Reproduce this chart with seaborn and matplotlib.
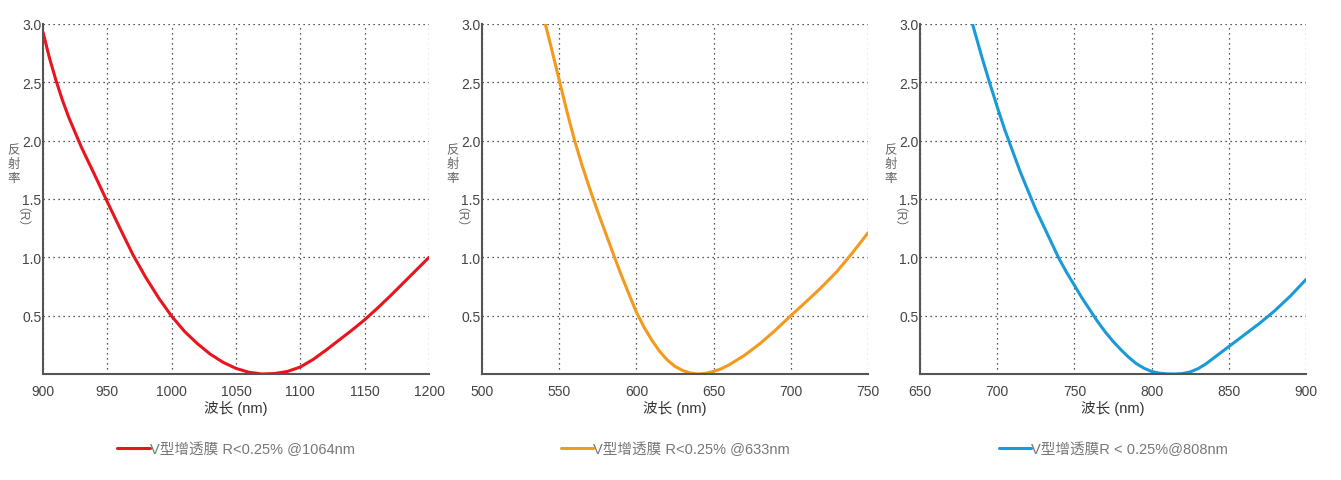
import matplotlib
matplotlib.use("Agg")
import matplotlib.pyplot as plt
import seaborn as sns
import pandas as pd

sns.set_style("white")
plt.rcParams['font.family'] = ['Liberation Sans', 'Noto Sans CJK SC', 'DejaVu Sans']

# readings
wl_1064 = [900, 905, 910, 915, 920, 925, 930, 940, 950, 960, 970, 980, 990, 1000, 1010,
           1020, 1030, 1040, 1050, 1060, 1070, 1080, 1090, 1100, 1110, 1120, 1130, 1140,
           1150, 1160, 1170, 1180, 1190, 1200]
r_1064 = [2.93, 2.71, 2.52, 2.35, 2.2, 2.07, 1.94, 1.71, 1.475, 1.245, 1.02, 0.825, 0.65,
          0.495, 0.365, 0.26, 0.17, 0.10, 0.048, 0.015, 0.0, 0.004, 0.022, 0.06, 0.125,
          0.205, 0.29, 0.375, 0.465, 0.565, 0.67, 0.78, 0.89, 1.0]

wl_633 = [541, 545, 550, 555, 560, 565, 570, 575, 580, 585, 590, 595, 600, 605, 610, 615,
          620, 625, 630, 635, 640, 645, 650, 655, 660, 670, 680, 690, 700, 710, 720, 730,
          740, 750]
r_633 = [3.0, 2.79, 2.52, 2.25, 2.0, 1.78, 1.58, 1.39, 1.21, 1.03, 0.855, 0.69, 0.53, 0.4,
         0.29, 0.195, 0.12, 0.065, 0.03, 0.008, 0.0, 0.006, 0.022, 0.045, 0.078, 0.16,
         0.26, 0.375, 0.5, 0.62, 0.745, 0.88, 1.04, 1.21]

wl_808 = [684, 690, 695, 700, 705, 710, 715, 720, 725, 730, 735, 740, 745, 750, 755, 760,
          765, 770, 775, 780, 785, 790, 795, 800, 805, 810, 815, 820, 825, 830, 835, 840,
          850, 860, 870, 880, 890, 900]
r_808 = [3.0, 2.72, 2.5, 2.29, 2.09, 1.91, 1.73, 1.57, 1.41, 1.27, 1.13, 0.99, 0.87, 0.76,
         0.65, 0.55, 0.45, 0.36, 0.28, 0.21, 0.145, 0.09, 0.05, 0.022, 0.007, 0.001, 0.0,
         0.004, 0.018, 0.045, 0.085, 0.135, 0.235, 0.335, 0.435, 0.545, 0.67, 0.81]

panels = [
    (wl_1064, r_1064, (900, 1200), "#e8141e", "V型增透膜 R<0.25% @1064nm"),
    (wl_633, r_633, (500, 750), "#f39a1e", "V型增透膜 R<0.25% @633nm"),
    (wl_808, r_808, (650, 900), "#1b9ad8", "V型增透膜R < 0.25%@808nm"),
]
lefts = [43, 482, 920]

fig = plt.figure(figsize=(13.41, 4.81), dpi=100)
for (wl, r, xlim, color, label), left in zip(panels, lefts):
    ax = fig.add_axes([left / 1341, 1 - 375 / 481, 386 / 1341, 350 / 481])
    df = pd.DataFrame({"wl": wl, "R": r})
    sns.lineplot(data=df, x="wl", y="R", color=color, linewidth=2.2, ax=ax, label=label)
    ax.set_xlim(*xlim)
    ax.set_ylim(0, 3.0)
    ax.set_xticks(list(range(xlim[0], xlim[1] + 1, 50)))
    ax.set_yticks([0.5, 1.0, 1.5, 2.0, 2.5, 3.0])
    ax.set_yticklabels(["0.5", "1.0", "1.5", "2.0", "2.5", "3.0"])
    ax.grid(True, linestyle=(0, (1, 3)), color="#222222", linewidth=0.9)
    for s in ["top", "right"]:
        ax.spines[s].set_visible(False)
    for s in ["left", "bottom"]:
        ax.spines[s].set_color("#555555")
        ax.spines[s].set_linewidth(1.5)
    ax.tick_params(axis="x", length=0, labelsize=10, colors="#444444", pad=7)
    ax.tick_params(axis="y", length=0, labelsize=10, colors="#444444", pad=1)
    ax.set_xlabel("波长 (nm)", fontsize=10.5, color="#333333", labelpad=2)
    ax.set_ylabel("")
    ax.text(-0.075, 0.6, "反\n射\n率", transform=ax.transAxes, ha="center", va="center",
            fontsize=9, color="#666666", linespacing=1.2)
    ax.text(-0.075, 0.43, "（R）", transform=ax.transAxes, ha="center", va="center",
            fontsize=9, color="#666666", rotation=-90)
    leg = ax.legend(loc="upper center", bbox_to_anchor=(0.5, -0.155), frameon=False,
                    handlelength=2.2, handletextpad=0.0, fontsize=10.5)
    for t in leg.get_texts():
        t.set_color("#777777")

fig.savefig("out.png", dpi=100)
